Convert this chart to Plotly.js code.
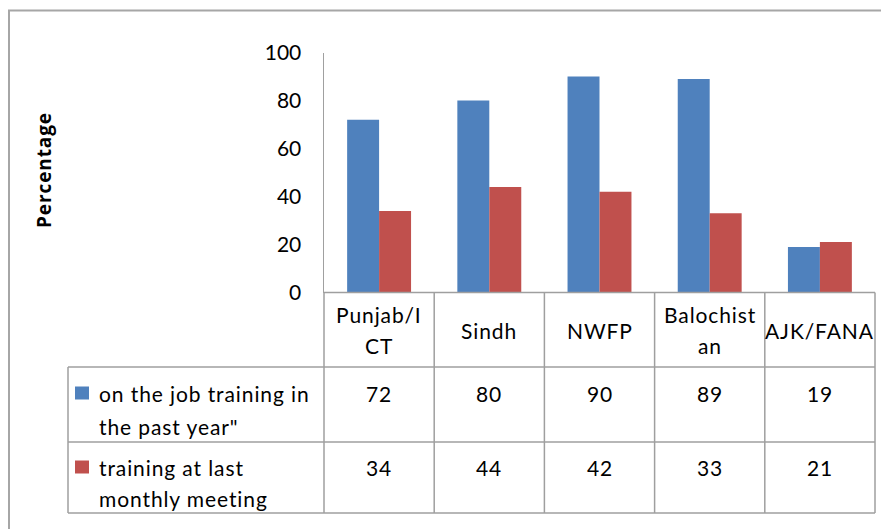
<!DOCTYPE html>
<html>
<head>
<meta charset="utf-8">
<script src="https://cdn.plot.ly/plotly-3.0.1.min.js"></script>
<style>html,body{margin:0;padding:0;background:#fff;}#chart{width:881px;height:529px;}
.annotation-text{letter-spacing:0.9px;}</style>
</head>
<body>
<div id="chart"></div>
<script>
// ---- data ----
var categories = ["Punjab/ICT", "Sindh", "NWFP", "Balochistan", "AJK/FANA"];
var categoryLabelLines = [["Punjab/I", "CT"], ["Sindh"], ["NWFP"], ["Balochist", "an"], ["AJK/FANA"]];
var seriesNames = ["on the job training in the past year\"", "training at last monthly meeting"];
var seriesLabelLines = [["on the job training in", "the past year\""], ["training at last", "monthly meeting"]];
var onJobTraining = [72, 80, 90, 89, 19];
var trainingLastMeeting = [34, 44, 42, 33, 21];
var yTicks = [0, 20, 40, 60, 80, 100];
var yAxisTitle = "Percentage";

// ---- layout helpers (pixels -> paper) ----
var W = 881, H = 529;
function px(x) { return x / W; }
function py(y) { return 1 - y / H; }

var FONT = "Lato, 'Open Sans', sans-serif";
var seriesValues = [onJobTraining, trainingLastMeeting];
var colors = ["#4F81BD", "#C0504D"];

var traces = seriesValues.map(function (vals, i) {
  return {
    type: "bar", x: categories, y: vals, name: seriesNames[i],
    marker: {color: colors[i], line: {width: 0}},
    hoverinfo: "x+y+name"
  };
});

var gridColor = "#9f9f9f";
var shapes = [];
function line(x0, y0, x1, y1) {
  shapes.push({type: "line", xref: "paper", yref: "paper",
    x0: px(x0), y0: py(y0), x1: px(x1), y1: py(y1),
    line: {color: gridColor, width: 1.5}});
}
// outer frame
shapes.push({type: "rect", xref: "paper", yref: "paper",
  x0: px(9), y0: py(560), x1: px(900), y1: py(10.5),
  line: {color: "#a6a6a6", width: 2}, fillcolor: "rgba(0,0,0,0)"});

// data table grid
var colEdges = [324, 434.2, 544.4, 654.6, 764.8, 875];
var tableTop = 292.5, headerBottom = 367, row1Bottom = 442, tableBottom = 513, tableLeft = 68;
line(colEdges[0], tableTop, colEdges[5], tableTop);
line(tableLeft, headerBottom, colEdges[5], headerBottom);
line(tableLeft, row1Bottom, colEdges[5], row1Bottom);
line(tableLeft, tableBottom, colEdges[5], tableBottom);
line(tableLeft, headerBottom, tableLeft, tableBottom);
colEdges.forEach(function (x) { line(x, tableTop, x, tableBottom); });

var annotations = [];
function txt(x, xref, y, text, opts) {
  var a = {x: x, xref: xref, y: py(y), yref: "paper", text: text, showarrow: false,
    xanchor: "center", yanchor: "middle",
    font: {family: FONT, size: 21, color: "#000"}};
  for (var k in opts) a[k] = opts[k];
  annotations.push(a);
}
// category header labels
categories.forEach(function (c, i) {
  var lines = categoryLabelLines[i];
  var spacing = 31, center = 330;
  lines.forEach(function (l, j) {
    var y = center + (j - (lines.length - 1) / 2) * spacing;
    txt(c, "x", y, l);
  });
});
// values
var rowTextY = [[393, 426], [467, 498]];
seriesValues.forEach(function (vals, s) {
  vals.forEach(function (v, i) {
    txt(categories[i], "x", rowTextY[s][0], String(v));
  });
  seriesLabelLines[s].forEach(function (l, j) {
    txt(px(97), "paper", rowTextY[s][j], l, {xanchor: "left"});
  });
  // legend key square
  shapes.push({type: "rect", xref: "paper", yref: "paper",
    x0: px(75), x1: px(89), y0: py(rowTextY[s][0] + 6.5), y1: py(rowTextY[s][0] - 6.5),
    line: {width: 0}, fillcolor: colors[s]});
});
// y-axis title
annotations.push({x: px(44), xref: "paper", y: py(170), yref: "paper", text: "<b>" + yAxisTitle + "</b>",
  textangle: -90, showarrow: false, xanchor: "center", yanchor: "middle",
  font: {family: "'Open Sans', sans-serif", size: 19, color: "#000"}});

var layout = {
  width: W, height: H,
  margin: {l: 0, r: 0, t: 0, b: 0},
  paper_bgcolor: "#fff", plot_bgcolor: "#fff",
  showlegend: false,
  barmode: "group", bargap: 0.42, bargroupgap: 0,
  xaxis: {type: "category", domain: [px(324), px(875)], range: [-0.5, 4.5],
    showticklabels: false, showline: false, showgrid: false, zeroline: false, ticks: ""},
  yaxis: {range: [0, 100], domain: [py(292.5), py(52.5)], tickvals: yTicks,
    showgrid: false, zeroline: false, showline: true, linecolor: "#a0a0a0", linewidth: 1.5,
    ticks: "", ticklabelstandoff: 17,
    tickfont: {family: FONT, size: 21, color: "#000"}},
  shapes: shapes,
  annotations: annotations,
  font: {family: FONT}
};

Plotly.newPlot("chart", traces, layout, {displayModeBar: false, staticPlot: true});
</script>
</body>
</html>
